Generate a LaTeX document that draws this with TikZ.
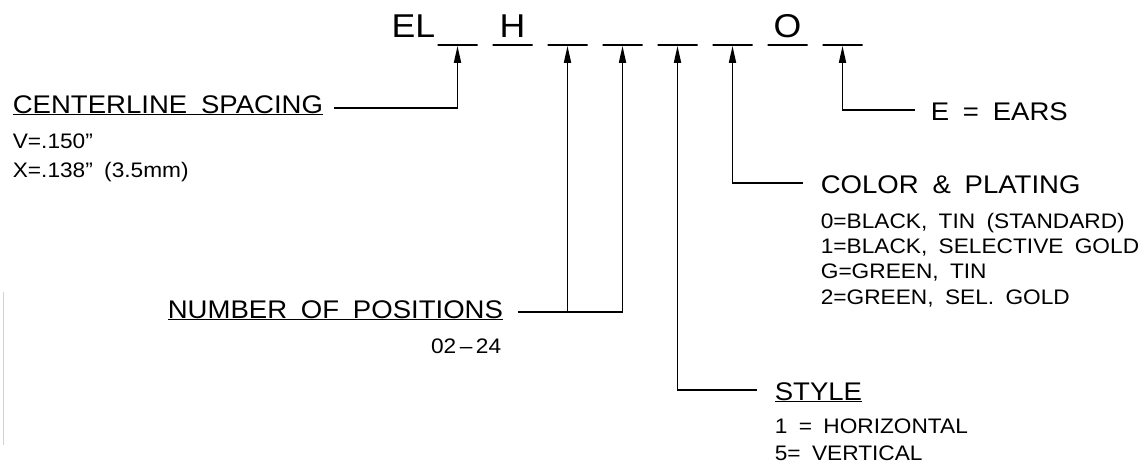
\documentclass[tikz,border=0pt]{standalone}
\usepackage{fontspec}
\setmainfont{Liberation Sans}[FakeStretch=1.08,WordSpace=1.8]
\usepackage{tikz}
\usetikzlibrary{arrows.meta,positioning}

\tikzset{
  lbl/.style={inner sep=0pt, anchor=base west, font=\fontsize{25.5}{28}\selectfont},
  sub/.style={inner sep=0pt, anchor=base west, font=\fontsize{21}{25}\selectfont},
  code/.style={inner sep=0pt, anchor=base, font=\fontsize{33}{36}\selectfont},
  blank/.style={draw, inner sep=0pt, minimum width=40pt, minimum height=0pt},
}

\begin{document}
\begin{tikzpicture}[x=1pt, y=-1pt, line width=1.7pt, >={Triangle[length=17pt,width=7pt]}]
\fill[white] (0,0) rectangle (1141,471);
\useasboundingbox (0,0) rectangle (1141,471);

% part number
\foreach \i in {1,...,8}
  \node[blank] (b\i) at ({402.5+55*\i},45) {};
\node[code, anchor=base east] (el) at (436,37) {EL};
\node[code] (h) at (512.5,37) {H};
\node[code] (o) at (787.5,37) {O};

% centerline spacing
\node[lbl] (cls) at (12,113) {\underline{CENTERLINE SPACING}};
\node[sub] (clv) at (12,148) {V=.150”};
\node[sub] (clx) at (12,177) {X=.138” (3.5mm)};
\draw[->] ([xshift=10pt,yshift=5pt]cls.base east) -| (b1.south);

% number of positions
\node[lbl] (nop) at (167,318) {\underline{NUMBER OF POSITIONS}};
\node[sub, anchor=base east] (nopr) at (502,353) {02\,–\,24};
\draw[->] ([xshift=14pt,yshift=6pt]nop.base east) coordinate (nopj) -| (b4.south);
\draw[->] (nopj -| b3.south) -- (b3.south);

% style
\node[lbl] (sty) at (774,400) {\underline{STYLE}};
\node[sub] (sty1) at (774,433) {1 = HORIZONTAL};
\node[sub] (sty5) at (774,460) {5= VERTICAL};
\draw[->] ([xshift=-17pt,yshift=10pt]sty.base west) -| (b5.south);

% color and plating
\node[lbl] (cp) at (820,193) {COLOR \& PLATING};
\node[sub] (cp0) at (820,228) {0=BLACK, TIN (STANDARD)};
\node[sub] (cp1) at (820,253) {1=BLACK, SELECTIVE GOLD};
\node[sub] (cpg) at (820,278) {G=GREEN, TIN};
\node[sub] (cp2) at (820,304) {2=GREEN, SEL. GOLD};
\draw[->] ([xshift=-17pt,yshift=10pt]cp.base west) -| (b6.south);

% ears
\node[lbl] (ear) at (930,120) {E = EARS};
\draw[->] ([xshift=-15pt,yshift=10pt]ear.base west) -| (b8.south);

% edge of the scan
\draw[gray!35, line width=1pt] (3,292) -- (3,445);
\end{tikzpicture}
\end{document}
